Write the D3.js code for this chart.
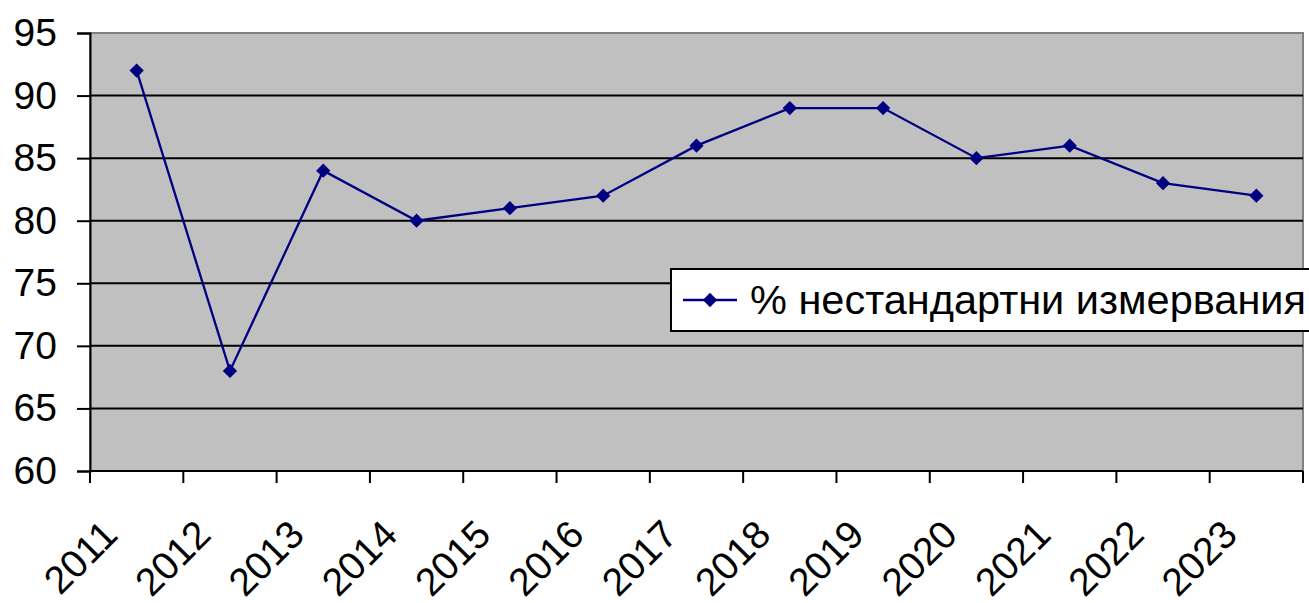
<!DOCTYPE html>
<html>
<head>
<meta charset="utf-8">
<script src="https://cdn.jsdelivr.net/npm/d3@7"></script>
<style>
  html, body { margin: 0; padding: 0; background: #ffffff; }
  svg { display: block; font-family: "Liberation Sans", Arial, sans-serif; }
</style>
</head>
<body>
<div id="chart"></div>
<script>
const years = ["2011", "2012", "2013", "2014", "2015", "2016", "2017", "2018", "2019", "2020", "2021", "2022", "2023"];
const values = [92, 68, 84, 80, 81, 82, 86, 89, 89, 85, 86, 83, 82];
const yTicks = [60, 65, 70, 75, 80, 85, 90, 95];
const seriesName = "% нестандартни измервания";

const width = 1309, height = 603;
const plot = { left: 90, right: 1303, top: 33, bottom: 471 };

const svg = d3.select("#chart").append("svg").attr("width", width).attr("height", height);

const x = d3.scaleBand().domain(years).range([plot.left, plot.right]);
const y = d3.scaleLinear().domain([60, 95]).range([plot.bottom, plot.top]);

// plot background
svg.append("rect")
  .attr("x", plot.left).attr("y", plot.top)
  .attr("width", plot.right - plot.left).attr("height", plot.bottom - plot.top)
  .attr("fill", "#c0c0c0").attr("stroke", "#808080").attr("stroke-width", 2);

// gridlines
svg.append("g")
  .selectAll("line")
  .data(yTicks.filter((d) => d > 60 && d < 95))
  .join("line")
  .attr("x1", plot.left).attr("x2", plot.right)
  .attr("y1", (d) => y(d)).attr("y2", (d) => y(d))
  .attr("stroke", "#000").attr("stroke-width", 2);

// y axis
const yAxis = svg.append("g")
  .attr("transform", `translate(${plot.left},0)`)
  .call(d3.axisLeft(y).tickValues(yTicks).tickSize(13).tickPadding(20));
yAxis.select(".domain").attr("stroke", "#000").attr("stroke-width", 2);
yAxis.selectAll(".tick line").attr("stroke", "#000").attr("stroke-width", 2);
yAxis.selectAll(".tick text").attr("font-size", 39).attr("fill", "#000")
  .attr("font-family", "Liberation Sans, Arial, sans-serif");

// x axis
const xAxis = svg.append("g").attr("transform", `translate(0,${plot.bottom})`);
xAxis.append("line")
  .attr("x1", plot.left).attr("x2", plot.right)
  .attr("stroke", "#000").attr("stroke-width", 2);
const tickPos = years.map((d) => x(d)).concat([plot.right]);
xAxis.selectAll("line.tick")
  .data(tickPos)
  .join("line")
  .attr("class", "tick")
  .attr("x1", (d) => d).attr("x2", (d) => d)
  .attr("y1", 0).attr("y2", 12)
  .attr("stroke", "#000").attr("stroke-width", 2);
xAxis.selectAll("text")
  .data(years)
  .join("text")
  .attr("transform", (d) => `translate(${x(d) + x.bandwidth() / 2 - 17},${66}) rotate(-45)`)
  .attr("text-anchor", "end")
  .attr("font-size", 39)
  .attr("fill", "#000")
  .text((d) => d);

// series line
const cx = (i) => x(years[i]) + x.bandwidth() / 2;
const line = d3.line().x((d, i) => cx(i)).y((d) => y(d));
svg.append("path")
  .datum(values)
  .attr("d", line)
  .attr("fill", "none")
  .attr("stroke", "#000080")
  .attr("stroke-width", 2.3);

const diamond = d3.symbol().type(d3.symbolDiamond2).size(130);
svg.append("g")
  .selectAll("path")
  .data(values)
  .join("path")
  .attr("d", diamond)
  .attr("transform", (d, i) => `translate(${cx(i)},${y(d)})`)
  .attr("fill", "#000080");

// legend
const legend = svg.append("g").attr("transform", "translate(671,269)");
legend.append("rect")
  .attr("width", 640).attr("height", 62)
  .attr("fill", "#fff").attr("stroke", "#000").attr("stroke-width", 2);
legend.append("line")
  .attr("x1", 12).attr("x2", 66).attr("y1", 31).attr("y2", 31)
  .attr("stroke", "#000080").attr("stroke-width", 2.3);
legend.append("path")
  .attr("d", diamond)
  .attr("transform", "translate(39,31)")
  .attr("fill", "#000080");
legend.append("text")
  .attr("x", 79).attr("y", 45)
  .attr("font-size", 41.5)
  .attr("fill", "#000")
  .text(seriesName);
</script>
</body>
</html>
